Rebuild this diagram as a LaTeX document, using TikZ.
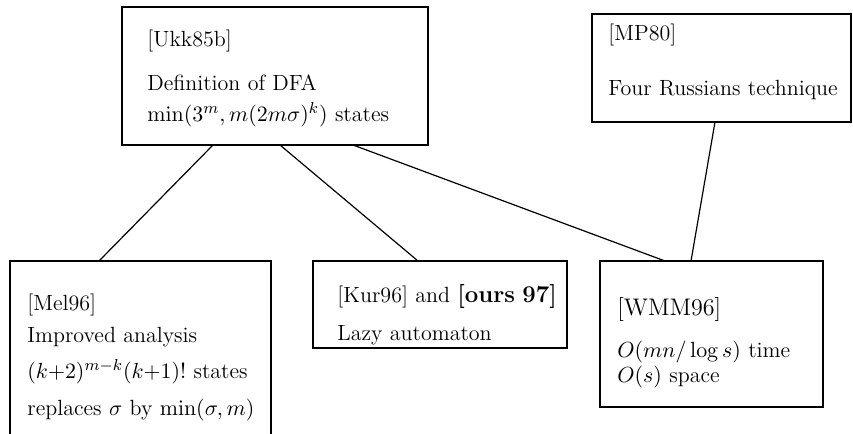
\documentclass[tikz,border=0pt]{standalone}
\usetikzlibrary{calc}
\begin{document}
\begin{tikzpicture}[x=0.5pt,y=-0.5pt]
        \clip (0,0) rectangle (853,434);
        \begin{scope}[every node/.style={rectangle,draw,line width=0.7pt,anchor=north west,inner sep=0pt,outer sep=0pt}]
            \node[minimum width=153pt,minimum height=69pt] (Ukk) at (122,7) {};
            \node[minimum width=129.5pt,minimum height=54pt] (MP) at (592,14) {};
            \node[minimum width=130.5pt,minimum height=95pt] (Mel) at (10,261) {};
            \node[minimum width=127pt,minimum height=43.5pt] (Kur) at (313,261) {};
            \node[minimum width=111.5pt,minimum height=73pt] (WMM) at (600,261) {};
        \end{scope}
        \begin{scope}[every node/.style={anchor=base west,inner sep=0pt,align=left,text width=125pt,font=\fontsize{11}{13.5}\selectfont}]
            \node (Ukk-t) at (147,46) {[Ukk85b]\\[8.5pt] Definition of DFA\\[2pt] $\min(3^m,m(2m\sigma)^k)$ states};
            \node (MP-t) at (608,40) {[MP80]\\[14pt] Four Russians technique};
            \node (Mel-t) at (27,310) {[Mel96]\\[2.5pt] Improved analysis\\[4.5pt] $(k{+}2)^{m-k}(k{+}1)!$ states\\[5pt] replaces $\sigma$ by $\min(\sigma,m)$};
            \node (Kur-t) at (337,302) {[Kur96] and {\large\bfseries [ours 97]}\\[5.5pt] Lazy automaton};
            \node (WMM-t) at (617,315) {{\large [WMM96]}\\[7.5pt] $O(mn/\log s)$ time\\[-1pt] $O(s)$ space};
        \end{scope}
        \begin{scope}[line width=0.6pt]
            \draw ($(Ukk.south west)+(91,0)$) -- ($(Mel.north west)+(89,0)$);
            \draw ($(Ukk.south west)+(158,0)$) -- ($(Kur.north west)+(105,0)$);
            \draw ($(Ukk.south west)+(231,0)$) -- ($(WMM.north west)+(65,0)$);
            \draw ($(MP.south west)+(123,0)$) -- ($(WMM.north west)+(91,0)$);
        \end{scope}
    \end{tikzpicture}
\end{document}
